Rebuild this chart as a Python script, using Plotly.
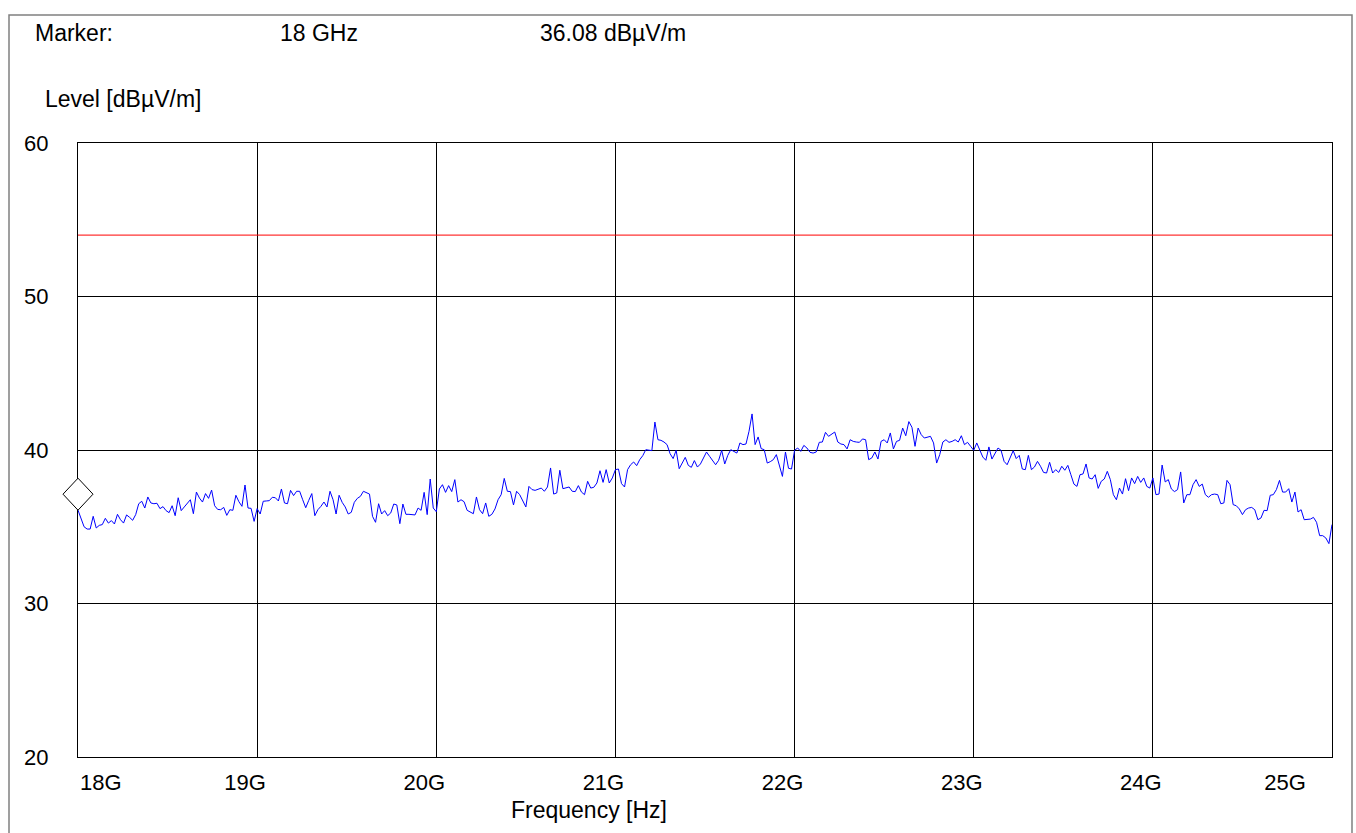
import numpy as np
import plotly.graph_objects as go

# ---------------- data ----------------
# Measured level [dBuV/m], one list per 1 GHz span of the sweep
level_18 = [36.08, 35.6, 35.0, 34.85, 34.85, 35.68, 34.92, 35.09, 35.14, 35.55,
            35.24, 35.40, 35.18, 35.81, 35.46, 35.24, 35.77, 35.61, 35.42, 35.79,
            36.50, 36.66, 36.22, 36.94, 36.55, 36.50, 36.53, 36.18, 36.31, 36.05,
            35.92, 36.37, 35.72, 36.89, 36.05, 36.29, 36.55, 36.76, 35.85, 37.26,
            36.87, 36.61, 37.16, 36.85, 37.39, 36.37, 36.13, 36.11, 36.26, 35.74,
            36.11, 36.07, 37.05, 36.63, 36.33, 37.72, 36.22, 36.20, 35.35]
level_19 = [36.18, 35.83, 36.66, 36.68, 36.70, 36.92, 36.89, 36.68, 37.46, 36.55,
            36.50, 37.37, 37.03, 37.31, 37.31, 36.76, 36.24, 36.72, 37.16, 35.72,
            36.11, 36.33, 36.61, 36.29, 37.31, 36.76, 35.83, 37.05, 36.59, 36.29,
            35.83, 35.94, 36.59, 36.85, 36.98, 37.31, 37.20, 37.13, 35.68, 35.29,
            36.50, 35.83, 36.05, 35.72, 35.90, 36.48, 36.42, 35.20, 36.48, 35.81,
            35.81, 35.81, 35.77, 36.22, 36.07, 37.24, 35.79, 38.11, 36.22]
level_20 = [35.98, 37.46, 37.74, 37.24, 37.68, 37.29, 38.07, 36.61, 36.76, 36.63,
            36.07, 35.94, 35.85, 36.94, 36.11, 35.85, 36.55, 35.68, 35.81, 36.16,
            36.76, 37.09, 38.15, 37.31, 37.29, 36.42, 37.31, 37.09, 36.72, 36.29,
            37.63, 37.42, 37.37, 37.46, 37.52, 37.31, 37.59, 38.83, 37.13, 37.20,
            38.68, 37.48, 37.52, 37.59, 37.31, 37.29, 37.68, 37.26, 37.09, 37.96,
            37.52, 37.57, 37.85, 38.65, 37.89, 38.72, 37.85, 38.18]
level_21 = [38.72, 38.76, 37.81, 37.59, 38.72, 39.04, 39.22, 38.98, 39.37, 39.63,
            40.02, 39.98, 39.96, 41.82, 40.67, 40.63, 40.52, 40.35, 39.76, 39.44,
            39.98, 38.78, 39.20, 39.52, 39.00, 38.87, 39.31, 38.89, 39.09, 39.52,
            39.87, 39.59, 39.31, 39.04, 39.33, 39.98, 39.09, 39.65, 40.02, 39.91,
            39.80, 40.46, 40.35, 40.39, 41.22, 42.35, 40.35, 40.85, 40.09, 40.02,
            39.15, 39.24, 39.37, 39.70, 38.98, 38.28, 39.87, 38.81, 38.76]
level_22 = [39.98, 40.13, 39.91, 40.30, 40.13, 39.85, 39.80, 39.87, 40.50, 40.52,
            41.15, 40.89, 41.06, 41.17, 40.52, 40.39, 40.35, 40.07, 40.67, 40.56,
            40.52, 40.50, 40.72, 40.67, 39.37, 39.48, 39.87, 39.41, 40.56, 40.67,
            40.46, 41.11, 40.07, 40.56, 40.63, 41.43, 40.93, 41.85, 41.48, 40.24,
            41.43, 41.00, 40.78, 40.85, 40.89, 40.46, 39.15, 39.70, 40.52, 40.67,
            40.50, 40.56, 40.67, 40.52, 40.93, 40.35, 40.50, 40.24]
level_23 = [39.98, 40.46, 40.02, 39.54, 39.33, 40.20, 39.41, 39.76, 40.13, 39.98,
            39.26, 39.04, 39.52, 39.96, 39.44, 39.65, 38.76, 38.72, 39.65, 38.72,
            38.89, 39.26, 38.94, 38.54, 38.50, 39.20, 38.50, 38.72, 38.54, 38.94,
            38.68, 39.00, 38.39, 37.78, 37.63, 38.39, 38.44, 39.09, 38.18, 38.11,
            38.39, 37.50, 37.96, 38.11, 38.61, 38.07, 37.09, 36.76, 37.52, 37.13,
            38.13, 37.35, 38.18, 37.81, 38.28, 37.89, 38.18, 37.63, 37.52]
level_24 = [38.18, 37.09, 37.13, 39.02, 37.92, 38.07, 37.46, 37.29, 37.42, 38.57,
            36.55, 37.09, 37.09, 37.74, 38.07, 37.63, 37.78, 37.09, 36.92, 37.09,
            37.13, 37.09, 36.50, 36.55, 38.02, 37.74, 36.44, 36.37, 36.16, 35.79,
            36.11, 36.22, 36.26, 36.11, 35.46, 35.57, 36.07, 36.05, 37.05, 37.09,
            37.42, 38.02, 37.26, 37.26, 37.48, 36.61, 37.26, 35.96, 36.11, 35.46,
            35.46, 35.50, 35.61, 35.29, 34.42, 34.42, 34.27, 33.90]
level_stop = 35.14          # last sweep point, at the stop frequency

span_starts_ghz = [18, 19, 20, 21, 22, 23, 24]
stop_ghz = 25
limit_level = 54.0          # limit line [dBuV/m]
marker_freq_ghz = 18
marker_level = 36.08

x_tick_values = [18, 19, 20, 21, 22, 23, 24, 25]
x_tick_labels = ["18G", "19G", "20G", "21G", "22G", "23G", "24G", "25G"]
y_tick_values = [20, 30, 40, 50, 60]
y_range = [20, 60]

# ---------------- build sweep (evenly spaced points per span) ----------------
spans = [level_18, level_19, level_20, level_21, level_22, level_23, level_24]
freq, level = [], []
for f0, seg in zip(span_starts_ghz, spans):
    freq.extend(np.linspace(f0, f0 + 1, len(seg), endpoint=False).tolist())
    level.extend(seg)
freq.append(stop_ghz)
level.append(level_stop)

# ---------------- layout geometry ----------------
W, H = 1356, 833
PL, PR, PT, PB = 78, 1332, 143, 757     # plot area in pixels


def px(x):
    return (x - PL) / (PR - PL)


def py(y):
    return (PB - y) / (PB - PT)


FONT = "Liberation Sans, Arial, Helvetica, sans-serif"
x_min, x_max = x_tick_values[0], x_tick_values[-1]

# label positions: drawn slightly left of each grid line, kept inside the plot
label_pos = [min(max(v - 0.067, x_min + 0.127), x_max - 0.262) for v in x_tick_values]

fig = go.Figure()
fig.add_trace(go.Scatter(
    x=freq, y=level, mode="lines",
    line=dict(color="#0000ff", width=1), hoverinfo="x+y", showlegend=False))
fig.add_trace(go.Scatter(
    x=[x_min, x_max], y=[limit_level, limit_level], mode="lines",
    line=dict(color="#ff0000", width=1), xaxis="x2", showlegend=False))

shapes = [
    # outer frame
    dict(type="rect", xref="paper", yref="paper",
         x0=px(9), x1=px(1352), y0=py(850), y1=py(15),
         line=dict(color="#808080", width=1.5), layer="below"),
    # marker diamond sitting on top of the marked point
    dict(type="path", xref="paper", yref="paper",
         xsizemode="pixel", ysizemode="pixel",
         xanchor=(marker_freq_ghz - x_min) / (x_max - x_min),
         yanchor=(marker_level - y_range[0]) / (y_range[1] - y_range[0]),
         path="M 0 0 L 15 16 L 0 32 L -15 16 Z",
         line=dict(color="black", width=1), fillcolor="white", layer="above"),
]

tf = dict(family=FONT, size=22, color="black")
hf = dict(family=FONT, size=23, color="black")
annotations = [
    dict(text="Marker:", x=px(33), y=py(33)),
    dict(text=f"{marker_freq_ghz:g} GHz", x=px(278), y=py(33)),
    dict(text=f"{marker_level:.2f} dBµV/m", x=px(538), y=py(33)),
    dict(text="Level [dBµV/m]", x=px(43), y=py(99)),
]
annotations = [dict(a, xref="paper", yref="paper", xanchor="left", yanchor="middle",
                    showarrow=False, font=hf) for a in annotations]
annotations.append(dict(text="Frequency [Hz]", x=px(589), y=py(810),
                        xref="paper", yref="paper", xanchor="center", yanchor="middle",
                        showarrow=False, font=hf))

fig.update_layout(
    width=W, height=H,
    margin=dict(l=PL, r=W - PR, t=PT, b=H - PB, autoexpand=False),
    paper_bgcolor="white", plot_bgcolor="white",
    showlegend=False,
    font=dict(family=FONT, size=22, color="black"),
    xaxis=dict(range=[x_min, x_max], tickvals=x_tick_values, showticklabels=False,
               showgrid=True, gridcolor="black", gridwidth=1, zeroline=False,
               showline=True, linecolor="black", linewidth=1, mirror=True,
               ticks=""),
    xaxis2=dict(range=[x_min, x_max], overlaying="x", anchor="y", side="bottom",
                tickvals=label_pos, ticktext=x_tick_labels,
                showgrid=False, zeroline=False, showline=False,
                ticks="outside", ticklen=6, tickcolor="rgba(0,0,0,0)",
                tickfont=tf),
    yaxis=dict(range=y_range, tickvals=y_tick_values,
               showgrid=True, gridcolor="black", gridwidth=1, zeroline=False,
               showline=True, linecolor="black", linewidth=1, mirror=True,
               ticks="outside", ticklen=24, tickcolor="rgba(0,0,0,0)",
               tickfont=tf),
    shapes=shapes,
    annotations=annotations,
)

fig.write_html("out.html", config={"displayModeBar": False},
               post_script="document.body.style.margin='0';document.body.style.overflow='hidden';")
